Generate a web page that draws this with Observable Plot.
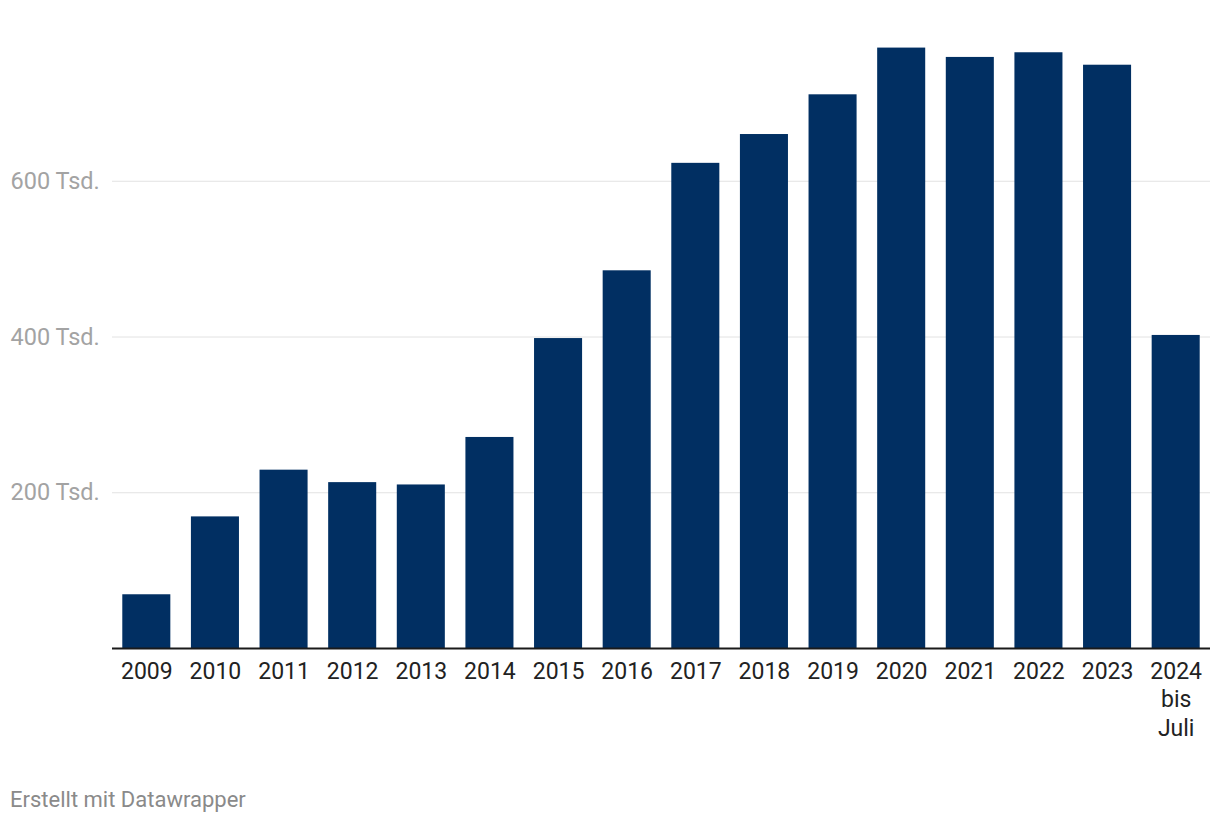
<!DOCTYPE html>
<html>
<head>
<meta charset="utf-8">
<script src="https://cdn.jsdelivr.net/npm/d3@7"></script>
<script src="https://cdn.jsdelivr.net/npm/@observablehq/plot@0.6"></script>
<style>
  html, body { margin: 0; padding: 0; background: #fff; }
  #chart { position: relative; width: 1220px; height: 824px; font-family: Roboto, sans-serif; }
  #footer { position: absolute; left: 10px; top: 786px; font-size: 22px; line-height: 28px; color: #8a8a8a; font-family: Roboto, sans-serif; }
</style>
</head>
<body>
<div id="chart"><div id="footer">Erstellt mit Datawrapper</div></div>
<script>
const years = ["2009","2010","2011","2012","2013","2014","2015","2016","2017","2018","2019","2020","2021","2022","2023","2024"];
const tickLabels = ["2009","2010","2011","2012","2013","2014","2015","2016","2017","2018","2019","2020","2021","2022","2023","2024\nbis\nJuli"];
const values = [69, 169, 229, 213, 210, 271, 398, 485, 623, 660, 711, 771, 759, 765, 749, 402];
const yTicks = [200, 400, 600];

const data = years.map((y, i) => ({year: y, value: values[i], label: tickLabels[i]}));

const chart = Plot.plot({
  width: 1220,
  height: 770,
  marginLeft: 112,
  marginRight: 10,
  marginTop: 25,
  marginBottom: 122,
  style: {fontFamily: "Roboto, sans-serif", background: "transparent"},
  x: {domain: years, paddingInner: 0.3, paddingOuter: 0.15, round: false, axis: null},
  y: {domain: [0, 800], axis: null},
  marks: [
    Plot.ruleY(yTicks, {stroke: "#e2e2e2", strokeWidth: 1}),
    Plot.text(yTicks, {
      y: d => d, text: d => `${d} Tsd.`, frameAnchor: "left", dx: -102,
      textAnchor: "start", fontSize: 23.5, fill: "#a3a3a3"
    }),
    Plot.barY(data, {x: "year", y: "value", fill: "#012f62"}),
    Plot.ruleY([0], {stroke: "#1a1a1a", strokeWidth: 2}),
    Plot.text(data, {
      x: "year", text: "label", frameAnchor: "bottom", lineAnchor: "top",
      dy: 11, lineHeight: 1.22, fontSize: 23, fill: "#222"
    })
  ]
});
document.getElementById("chart").prepend(chart);
</script>
</body>
</html>
